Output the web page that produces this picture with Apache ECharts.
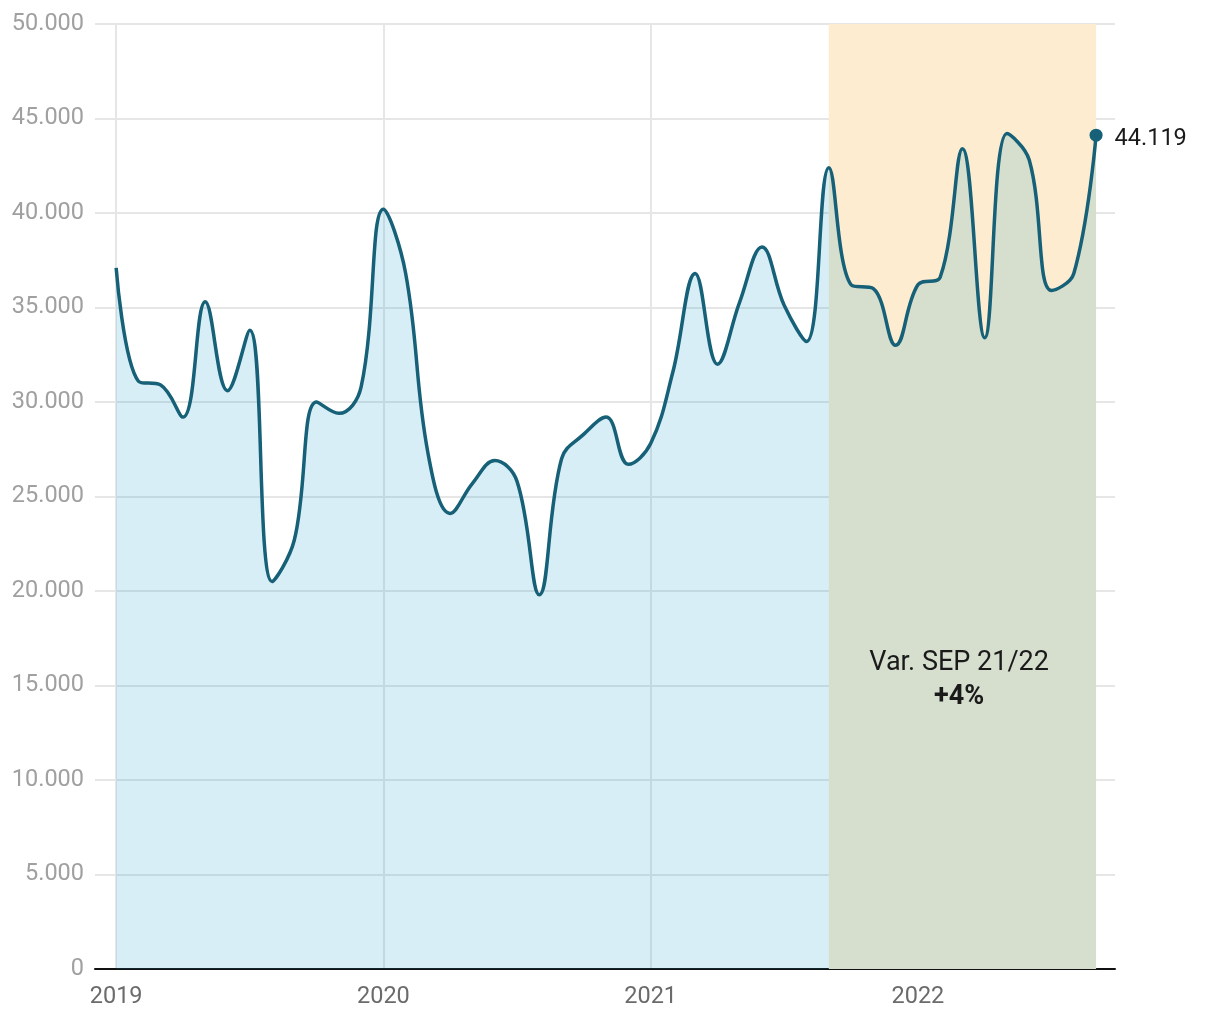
<!DOCTYPE html>
<html>
<head>
<meta charset="utf-8">
<script src="https://cdn.jsdelivr.net/npm/echarts@6/dist/echarts.min.js"></script>
<style>
html,body{margin:0;padding:0;background:#fff;}
#chart{width:1220px;height:1020px;}
</style>
</head>
<body>
<div id="chart"></div>
<script>
// Monthly values, Jan 2019 .. Sep 2022
const months = ['2019-01','2019-02','2019-03','2019-04','2019-05','2019-06','2019-07','2019-08','2019-09','2019-10','2019-11','2019-12',
  '2020-01','2020-02','2020-03','2020-04','2020-05','2020-06','2020-07','2020-08','2020-09','2020-10','2020-11','2020-12',
  '2021-01','2021-02','2021-03','2021-04','2021-05','2021-06','2021-07','2021-08','2021-09','2021-10','2021-11','2021-12',
  '2022-01','2022-02','2022-03','2022-04','2022-05','2022-06','2022-07','2022-08','2022-09'];
const values = [37100,31100,30900,29200,35300,30600,33800,20500,22700,30000,29400,30800,
  40200,36800,27300,24100,25700,26900,25800,19800,27000,28300,29200,26700,
  27800,31600,36800,32000,35300,38200,35100,33200,42400,36200,36000,33000,
  36200,36600,43400,33400,44200,42800,35900,36800,44119];
const yearLabels = ['2019','2020','2021','2022'];
const yearIdx = [0,12,24,36];
const bandStart = '2021-09';
const bandEnd = '2022-09';
const annotation = ['Var. SEP 21/22', '+4%'];

const fmt = v => String(v).replace(/\B(?=(\d{3})+(?!\d))/g, '.');
const lineColor = '#166078';
const font = 'Roboto';
const data = values.map((v,i)=>[i,v]);
const last = data.length - 1;
const b0 = months.indexOf(bandStart), b1 = months.indexOf(bandEnd);

const chart = echarts.init(document.getElementById('chart'), null, {renderer:'canvas'});
chart.setOption({
  animation:false,
  backgroundColor:'#fff',
  grid:{left:95, right:105, top:24, bottom:51, containLabel:false},
  xAxis:{
    type:'value', min:-0.95, max:last+0.85,
    axisLine:{show:true, onZero:true, lineStyle:{color:'#111', width:2}},
    axisTick:{show:false, customValues:yearIdx},
    axisLabel:{customValues:yearIdx, formatter:v=>yearLabels[yearIdx.indexOf(v)]||'', color:'#6b6b6b', fontFamily:font, fontSize:23.5, margin:16},
    splitLine:{show:true, lineStyle:{color:'#e6e6e6', width:2}}
  },
  yAxis:{
    type:'value', min:0, max:50000, interval:5000,
    axisLine:{show:false}, axisTick:{show:false},
    axisLabel:{formatter:v=>fmt(v), color:'#a0a0a0', fontFamily:font, fontSize:23.5, margin:11},
    splitLine:{show:true, lineStyle:{color:'#e6e6e6', width:2}}
  },
  series:[
    {
      type:'line', data:[], z:1, silent:true,
      markArea:{silent:true, itemStyle:{color:'#fdecd0'},
        data:[[{xAxis:b0, yAxis:50000},{xAxis:b1, yAxis:0}]]}
    },
    {
      type:'line', data:data, z:3, smooth:0.4, showSymbol:false,
      lineStyle:{color:lineColor, width:3.5},
      areaStyle:{color:'rgba(11,149,199,0.16)', opacity:1, origin:'start'}
    },
    {
      type:'scatter', z:4, data:[data[last]], symbolSize:13, itemStyle:{color:lineColor, opacity:1},
      label:{show:true, position:'right', distance:12, offset:[0,4], formatter:p=>fmt(p.value[1]), color:'#1a1a1a', fontFamily:font, fontSize:23.5},
      markPoint:{symbol:'circle', symbolSize:0, silent:true,
        label:{show:true, position:'inside', fontFamily:font, lineHeight:34,
          formatter:'{a|'+annotation[0]+'}\n{b|'+annotation[1]+'}',
          rich:{a:{fontSize:27, color:'#1a1a1a', fontFamily:font, lineHeight:34}, b:{fontSize:27, fontWeight:'bold', color:'#1a1a1a', fontFamily:font, lineHeight:34}}},
        data:[{coord:[(b0+b1)/2 - 0.15, 15300]}]}
    }
  ]
});
</script>
</body>
</html>
